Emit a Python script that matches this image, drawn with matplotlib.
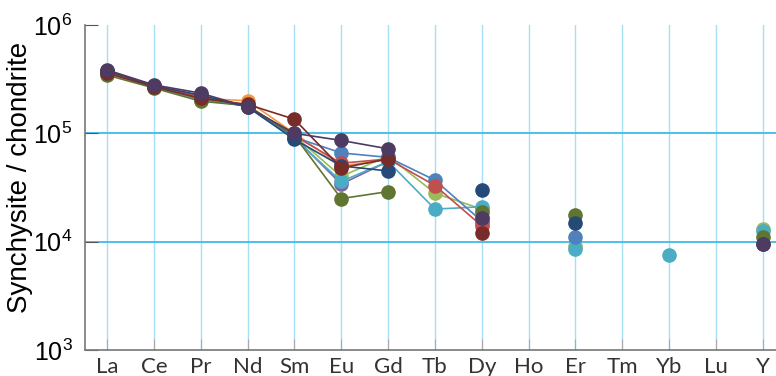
import numpy as np
import matplotlib
matplotlib.use("Agg")
import matplotlib.pyplot as plt
from matplotlib.ticker import LogLocator, NullLocator, LogFormatterSciNotation

elements = ["La", "Ce", "Pr", "Nd", "Sm", "Eu", "Gd", "Tb", "Dy", "Ho", "Er", "Tm", "Yb", "Lu", "Y"]
nan = np.nan

# chondrite-normalised values
s_orange = [370e3, 270e3, 210e3, 200e3, 100e3, 50e3, 57e3, nan, 17e3, nan, nan, nan, nan, nan, nan]
s_lgreen = [360e3, 265e3, 205e3, 180e3, 95e3, 40e3, 62e3, 28e3, 20e3, nan, 9.2e3, nan, nan, nan, 13e3]
s_purple = [365e3, 268e3, 208e3, 178e3, 92e3, 34e3, 55e3, nan, 15e3, nan, nan, nan, nan, nan, nan]
s_cyan = [365e3, 270e3, 210e3, 178e3, 90e3, 36e3, 55e3, 20e3, 21e3, nan, 8.5e3, nan, 7.5e3, nan, 12.5e3]
s_blue = [375e3, 275e3, 215e3, 180e3, 92e3, 66e3, 60e3, 37e3, 15.5e3, nan, 11e3, nan, nan, nan, nan]
s_red = [370e3, 270e3, 220e3, 180e3, 95e3, 53e3, 58e3, 33e3, 14e3, nan, nan, nan, nan, nan, nan]
s_dgreen = [345e3, 262e3, 198e3, 180e3, 95e3, 25e3, 29e3, nan, 19e3, nan, 17.5e3, nan, nan, nan, 11e3]
s_navy = [380e3, 275e3, 225e3, 175e3, 88e3, 50e3, 45e3, nan, 30e3, nan, 15e3, nan, nan, nan, 9.6e3]
s_dred = [360e3, 270e3, 210e3, 185e3, 135e3, 48e3, 58e3, nan, 12e3, nan, nan, nan, nan, nan, nan]
s_dpurple = [385e3, 280e3, 235e3, 175e3, 100e3, 86e3, 72e3, nan, 16.5e3, nan, nan, nan, nan, nan, 9.5e3]

series = [
    (s_orange, "#F79646"),
    (s_lgreen, "#9BBB59"),
    (s_purple, "#8064A2"),
    (s_cyan, "#4BACC6"),
    (s_blue, "#4F81BD"),
    (s_red, "#C0504D"),
    (s_dgreen, "#5F7530"),
    (s_navy, "#254A78"),
    (s_dred, "#772C2A"),
    (s_dpurple, "#4D3B62"),
]

plt.rcParams["font.family"] = ["Liberation Sans", "DejaVu Sans"]

fig = plt.figure(figsize=(7.76, 3.76), dpi=100)
ax = fig.add_axes([0.1095, 0.069, 0.8905, 0.8645])

x = np.arange(len(elements))
for vals, col in series:
    ax.plot(x, vals, color=col, lw=1.2, marker="o", ms=9.5, mec=col, mfc=col, zorder=3)

ax.set_yscale("log")
ax.set_ylim(1e3, 1e6)
ax.set_xlim(-0.47, 14.28)

for xv in x:
    ax.axvline(xv, color="#a6def3", lw=1.0, zorder=1)
for yv in [1e4, 1e5]:
    ax.axhline(yv, color="#3fbbea", lw=1.3, zorder=1)

ax.set_xticks(x)
ax.set_xticklabels(elements, fontsize=16, family=["Lato", "DejaVu Sans"], color="#333333")
ax.yaxis.set_major_locator(LogLocator(base=10, numticks=10))
ax.yaxis.set_minor_locator(NullLocator())
ax.yaxis.set_major_formatter(LogFormatterSciNotation())
ax.tick_params(axis="y", labelsize=18, direction="in", length=9, color="#555555", pad=9)
ax.tick_params(axis="x", direction="in", length=8, color="#aaaaaa", pad=5)
ax.set_ylabel("Synchysite / chondrite", fontsize=20)
ax.yaxis.set_label_coords(-0.075, 0.53)

for s in ["top", "right"]:
    ax.spines[s].set_visible(False)
for s in ["left", "bottom"]:
    ax.spines[s].set_color("#777777")
    ax.spines[s].set_linewidth(1.2)

fig.savefig("out.png", dpi=100)
